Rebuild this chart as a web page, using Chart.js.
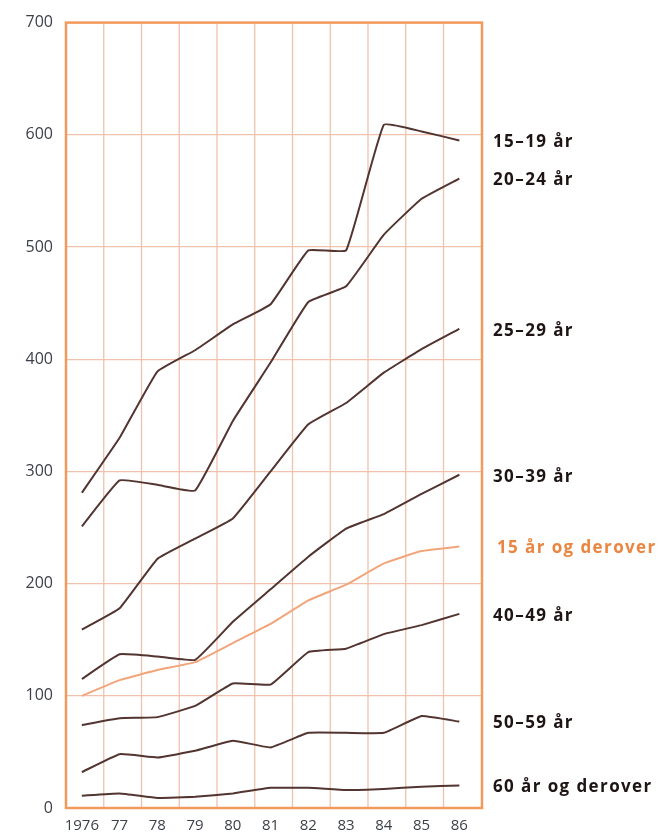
<!DOCTYPE html>
<html>
<head>
<meta charset="utf-8">
<script src="https://cdn.jsdelivr.net/npm/chart.js"></script>
<style>
  html, body { margin: 0; padding: 0; background: #fff; }
  #wrap { width: 659px; height: 837px; }
</style>
</head>
<body>
<div id="wrap"><canvas id="graf" width="659" height="837"></canvas></div>
<script>
const aar = ['1976', '77', '78', '79', '80', '81', '82', '83', '84', '85', '86'];
const yTicks = [0, 100, 200, 300, 400, 500, 600, 700];

const aar15_19 = [281, 330, 389, 408, 431, 449, 497, 497, 609, 603, 595];
const aar20_24 = [251, 292, 288, 283, 345, 397, 451, 465, 511, 543, 561];
const aar25_29 = [159, 178, 222, 240, 258, 300, 342, 361, 388, 409, 427];
const aar30_39 = [115, 137, 135, 132, 166, 195, 224, 249, 262, 280, 297];
const aar15plus = [100, 114, 123, 130, 147, 164, 185, 199, 218, 229, 233];
const aar40_49 = [74, 80, 81, 91, 111, 110, 139, 142, 155, 163, 173];
const aar50_59 = [32, 48, 45, 51, 60, 54, 67, 67, 67, 82, 77];
const aar60plus = [11, 13, 9, 10, 13, 18, 18, 16, 17, 19, 20];

const serier = [
  { navn: '15–19 år', data: aar15_19 },
  { navn: '20–24 år', data: aar20_24 },
  { navn: '25–29 år', data: aar25_29 },
  { navn: '30–39 år', data: aar30_39 },
  { navn: '15 år og derover', data: aar15plus, orange: true },
  { navn: '40–49 år', data: aar40_49 },
  { navn: '50–59 år', data: aar50_59 },
  { navn: '60 år og derover', data: aar60plus }
];

const brun = '#523430';
const orangeLinje = '#f2a57a';
const orangeTekst = '#ea8640';
const rammeFarge = '#f29a5c';
const gridFarge = '#f0c2ad';

// vertikale linjer og ramme rundt plottet
const rammePlugin = {
  id: 'ramme',
  beforeDatasetsDraw(chart) {
    const { ctx, chartArea: a, scales } = chart;
    ctx.save();
    ctx.strokeStyle = gridFarge;
    ctx.lineWidth = 1.3;
    for (let i = 0; i < aar.length - 1; i++) {
      const x = scales.x.getPixelForValue(i + 0.58);
      ctx.beginPath();
      ctx.moveTo(x, a.top);
      ctx.lineTo(x, a.bottom);
      ctx.stroke();
    }
    ctx.strokeStyle = rammeFarge;
    ctx.lineWidth = 2.5;
    ctx.strokeRect(a.left, a.top, a.right - a.left, a.bottom - a.top);
    ctx.restore();
  },
  afterDatasetsDraw(chart) {
    const { ctx, chartArea: a, scales } = chart;
    ctx.save();
    ctx.font = 'bold 17px "Open Sans"';
    ctx.letterSpacing = '1.4px';
    ctx.textBaseline = 'middle';
    serier.forEach(s => {
      const y = scales.y.getPixelForValue(s.data[s.data.length - 1]) + 2;
      ctx.fillStyle = s.orange ? orangeTekst : '#1e1414';
      ctx.fillText(s.navn, a.right + (s.orange ? 15 : 11), y);
    });
    ctx.restore();
  }
};

new Chart(document.getElementById('graf'), {
  type: 'line',
  data: {
    datasets: serier.map(s => ({
      label: s.navn,
      data: s.data.map((v, i) => ({ x: i, y: v })),
      borderColor: s.orange ? orangeLinje : brun,
      borderWidth: 2,
      pointRadius: 0,
      tension: 0.1,
      fill: false
    }))
  },
  options: {
    responsive: false,
    animation: false,
    layout: { padding: { top: 11, right: 177, bottom: 0, left: 0 } },
    plugins: {
      legend: { display: false },
      tooltip: { enabled: false }
    },
    scales: {
      x: {
        type: 'linear',
        min: -0.42,
        max: 10.6,
        afterBuildTicks: axis => { axis.ticks = aar.map((_, i) => ({ value: i })); },
        afterFit: axis => { axis.height = 29; },
        grid: { display: false, drawTicks: false },
        border: { display: false },
        ticks: {
          callback: v => aar[v],
          color: '#3c4048',
          font: { family: 'Open Sans', size: 15 },
          padding: 9,
          maxRotation: 0,
          autoSkip: false
        }
      },
      y: {
        min: 0,
        max: 700,
        afterBuildTicks: axis => { axis.ticks = yTicks.map(v => ({ value: v })); },
        afterFit: axis => { axis.width = 66; },
        grid: { color: gridFarge, lineWidth: 1.3, drawTicks: false },
        border: { display: false },
        ticks: {
          color: '#3c4048',
          font: { family: 'Open Sans', size: 16 },
          padding: 13
        }
      }
    }
  },
  plugins: [rammePlugin]
});
</script>
</body>
</html>
